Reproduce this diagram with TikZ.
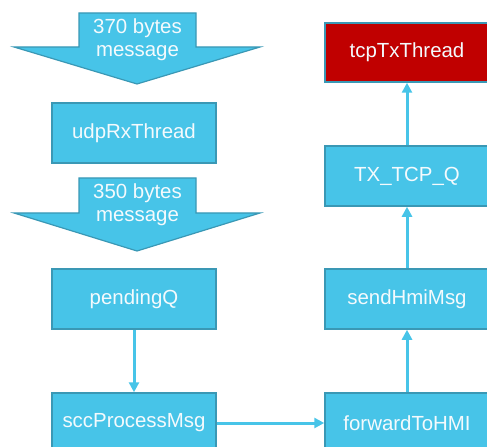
\documentclass[tikz,border=0pt]{standalone}
\usepackage{fontspec}
\setmainfont{Liberation Sans}
\usetikzlibrary{arrows.meta}
\definecolor{boxblue}{HTML}{47C4E8}
\definecolor{edgeblue}{HTML}{3A98B5}
\definecolor{boxred}{HTML}{C00000}
\definecolor{textwhite}{HTML}{F4FAFD}
\begin{document}
\begin{tikzpicture}[x=1bp,y=-1bp,
  box/.style={draw=edgeblue, line width=1.5bp, fill=boxblue, minimum width=164bp,
    minimum height=60bp, inner sep=0pt, text=textwhite, font=\fontsize{20.5}{24}\selectfont},
  redbox/.style={box, fill=boxred},
  blockarrow/.style={draw=edgeblue, line width=1.2bp, fill=boxblue, line join=miter},
  blocklabel/.style={text=textwhite, align=center, font=\fontsize{20.5}{23}\selectfont, inner sep=0pt},
  conn/.style={draw=boxblue, line width=3bp, -{Triangle[length=10bp,width=10bp]}}]
\useasboundingbox (0,0) rectangle (487,447);
\clip (0,0) rectangle (487,447);

% block arrows
\draw[blockarrow] (79,13) -- (196,13) -- (196,47) -- (260,47) -- (137,84) -- (14,47) -- (79,47) -- cycle;
\node[blocklabel] (msg1) at (137.5,40) {370 bytes\\message};
\draw[blockarrow] (79,178) -- (196,178) -- (196,213) -- (260,213) -- (137,251) -- (14,213) -- (79,213) -- cycle;
\node[blocklabel] (msg2) at (137.5,205) {350 bytes\\message};

% boxes
\node[box] (udp) at (134,133) {udpRxThread};
\node[box] (pend) at (134,299) {pendingQ};
\node[box] (scc) at (134,423) {sccProcessMsg};
\node[box] (fwd) at (407,423) {forwardToHMI};
\node[box] (send) at (407,299) {sendHmiMsg};
\node[box] (txq) at (407,176) {TX\_TCP\_Q};
\node[redbox, minimum height=59bp] (tcp) at (407,52.5) {tcpTxThread};

% connectors
\draw[conn] (pend) -- (scc);
\draw[conn] (scc) -- (fwd);
\draw[conn] (fwd) -- (send);
\draw[conn] (send) -- (txq);
\draw[conn] (txq) -- (tcp);
\end{tikzpicture}
\end{document}
